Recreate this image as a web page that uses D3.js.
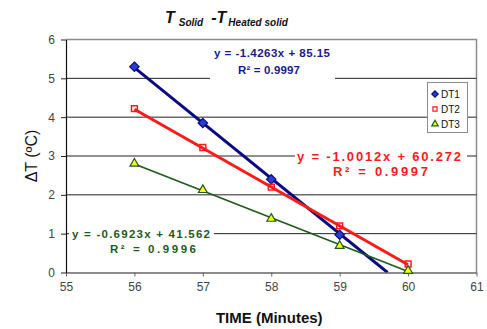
<!DOCTYPE html>
<html>
<head>
<meta charset="utf-8">
<script src="https://cdn.jsdelivr.net/npm/d3@7"></script>
<style>
  html, body { margin: 0; padding: 0; background: #fff; }
  svg { display: block; font-family: "Liberation Sans", Arial, sans-serif; }
</style>
</head>
<body>
<svg id="chart" width="487" height="329"></svg>
<script>
// Measured temperature differences (°C) against time (minutes)
const times1 = [56, 57, 58, 59];
const dt1 = [5.30, 3.85, 2.40, 0.97];
const times2 = [56, 57, 58, 59, 60];
const dt2 = [4.22, 3.22, 2.20, 1.20, 0.22];
const times3 = [56, 57, 58, 59, 60];
const dt3 = [2.78, 2.10, 1.36, 0.66, 0.02];

// Linear trendline coefficients (slope, intercept, R²)
const fitSlopes = [-1.4263, -1.0012, -0.6923];
const fitIntercepts = [85.15, 60.272, 41.562];
const fitR2 = ["0.9997", "0.9997", "0.9996"];

const seriesNames = ["DT1", "DT2", "DT3"];
const xTicks = [55, 56, 57, 58, 59, 60, 61];
const yTicks = [0, 1, 2, 3, 4, 5, 6];

const svg = d3.select("#chart");
const x = d3.scaleLinear().domain([55, 61]).range([66, 476.5]);
const y = d3.scaleLinear().domain([0, 6]).range([272.5, 39.5]);

// Plot area frame (top and right edges)
svg.append("path")
  .attr("d", `M${x(55)},${y(6)}H${x(61)}V${y(0)}`)
  .attr("fill", "none").attr("stroke", "#8c8c8c").attr("stroke-width", 1.5);

// Horizontal gridlines
svg.append("g").selectAll("line").data(yTicks.filter(v => v > 0 && v < 6)).join("line")
  .attr("x1", x(55)).attr("x2", x(61))
  .attr("y1", d => y(d)).attr("y2", d => y(d))
  .attr("stroke", "#222").attr("stroke-width", 1);

// Axes
const xAxis = svg.append("g").attr("transform", `translate(0,${y(0)})`)
  .call(d3.axisBottom(x).tickValues(xTicks).tickFormat(d3.format("d")).tickSize(4).tickSizeOuter(0));
xAxis.select(".domain").attr("stroke", "#666").attr("stroke-width", 1.5);
xAxis.selectAll(".tick line").attr("stroke", "#666");
xAxis.selectAll(".tick text").attr("fill", "#444").attr("font-size", 12).attr("dy", "0.95em")
  .attr("font-family", "Liberation Sans, Arial, sans-serif");

const yAxis = svg.append("g").attr("transform", `translate(${x(55)},0)`)
  .call(d3.axisLeft(y).tickValues(yTicks).tickFormat(d3.format("d")).tickSize(5).tickSizeOuter(0));
yAxis.select(".domain").attr("stroke", "#111").attr("stroke-width", 1.2);
yAxis.selectAll(".tick line").attr("stroke", "#222");
yAxis.selectAll(".tick text").attr("fill", "#444").attr("font-size", 12).attr("dx", "-3")
  .attr("font-family", "Liberation Sans, Arial, sans-serif");

// Trendlines, clipped to the plot area
svg.append("clipPath").attr("id", "plotClip").append("rect")
  .attr("x", x(55)).attr("y", y(6)).attr("width", x(61) - x(55)).attr("height", y(0) - y(6));

const lineColors = ["#0a0a82", "#ff1a1a", "#1e5a1e"];
const textColors = ["#1a1a8c", "#ff1a1a", "#1e5a1e"];
const lineWidths = [3, 3, 1.6];
const fitStart = [56, 56, 56];
const fitEnd = [fitIntercepts[0] / -fitSlopes[0], 60, 60];
const plot = svg.append("g").attr("clip-path", "url(#plotClip)");
[0, 1, 2].forEach(i => {
  const pts = [fitStart[i], fitEnd[i]].map(t => [t, fitSlopes[i] * t + fitIntercepts[i]]);
  plot.append("path")
    .attr("d", d3.line().x(d => x(d[0])).y(d => y(d[1]))(pts))
    .attr("fill", "none").attr("stroke", lineColors[i]).attr("stroke-width", lineWidths[i]);
});

// Markers
const diamond = d3.symbol().type(d3.symbolDiamond2).size(56);
const square = d3.symbol().type(d3.symbolSquare2).size(44);
const triangle = d3.symbol().type(d3.symbolTriangle2).size(56);

function drawMarker(g, sym, fill, stroke, sw) {
  return g.append("path").attr("d", sym()).attr("fill", fill).attr("stroke", stroke).attr("stroke-width", sw);
}
times1.forEach((t, i) => {
  const g = svg.append("g").attr("transform", `translate(${x(t)},${y(dt1[i])})`);
  drawMarker(g, diamond, "#2a3fd0", "#0a0a82", 1.2);
});
times2.forEach((t, i) => {
  const g = svg.append("g").attr("transform", `translate(${x(t)},${y(dt2[i])})`);
  drawMarker(g, square, "none", "#ff1a1a", 1.5);
});
times3.forEach((t, i) => {
  const g = svg.append("g").attr("transform", `translate(${x(t)},${y(dt3[i]) - 1})`);
  drawMarker(g, triangle, "#ffff00", "#1e5a1e", 1.2);
});

// Trendline equation labels
const fmtEq = i => `y = ${fitSlopes[i].toFixed(4)}x + ${fitIntercepts[i]}`;
const labels = [
  { eq: fmtEq(0), r2: `R² = ${fitR2[0]}`, ex: 214, ey: 57, ew: 116, rx: 238, ry: 74, rw: 62, fs: 11.5, box: [210, 42, 125, 38] },
  { eq: fmtEq(1), r2: `R² = ${fitR2[1]}`, ex: 297, ey: 161, ew: 164, rx: 333, ry: 176, rw: 95, fs: 13, box: [295, 145, 172, 38] },
  { eq: fmtEq(2), r2: `R² = ${fitR2[2]}`, ex: 72, ey: 238, ew: 138, rx: 110, ry: 253, rw: 86, fs: 11.5, box: [69, 223, 145, 34] }
];
labels.forEach((L, i) => {
  svg.append("rect").attr("x", L.box[0]).attr("y", L.box[1]).attr("width", L.box[2]).attr("height", L.box[3]).attr("fill", "#fff");
  svg.append("text").attr("x", L.ex).attr("y", L.ey).text(L.eq)
    .attr("font-size", L.fs).attr("font-weight", "bold").attr("fill", textColors[i])
    .attr("textLength", L.ew).attr("lengthAdjust", "spacing");
  svg.append("text").attr("x", L.rx).attr("y", L.ry).text(L.r2)
    .attr("font-size", L.fs).attr("font-weight", "bold").attr("fill", textColors[i])
    .attr("textLength", L.rw).attr("lengthAdjust", "spacing");
});

// Legend
const leg = svg.append("g");
leg.append("rect").attr("x", 427.5).attr("y", 82.5).attr("width", 40).attr("height", 50)
  .attr("fill", "#fff").attr("stroke", "#8c8c8c").attr("stroke-width", 1);
const legSyms = [
  [d3.symbol().type(d3.symbolDiamond2).size(26), "#2a3fd0", "#0a0a82"],
  [d3.symbol().type(d3.symbolSquare2).size(22), "none", "#ff1a1a"],
  [d3.symbol().type(d3.symbolTriangle2).size(30), "#ffff00", "#1e5a1e"]
];
seriesNames.forEach((name, i) => {
  const cy = 94 + i * 15;
  leg.append("path").attr("transform", `translate(435,${cy})`).attr("d", legSyms[i][0]())
    .attr("fill", legSyms[i][1]).attr("stroke", legSyms[i][2]).attr("stroke-width", 1.2);
  leg.append("text").attr("x", 441).attr("y", cy + 3.5).text(name)
    .attr("font-size", 10).attr("fill", "#111");
});

// Title with subscripts
const title = svg.append("text").attr("x", 165).attr("y", 23)
  .attr("font-weight", "bold").attr("font-style", "italic").attr("fill", "#111");
title.append("tspan").attr("font-size", 16).text("T");
title.append("tspan").attr("font-size", 10).attr("dx", 4).attr("dy", 3).text("Solid");
title.append("tspan").attr("font-size", 16).attr("dx", 8).attr("dy", -3).text("-T");
title.append("tspan").attr("font-size", 10).attr("dx", 2).attr("dy", 3).text("Heated solid");

// Axis titles
svg.append("text").attr("x", x(58) - 2).attr("y", 323).attr("text-anchor", "middle")
  .attr("font-size", 15).attr("font-weight", "bold").attr("fill", "#111").text("TIME (Minutes)");
svg.append("text").attr("transform", `translate(37,${y(3)}) rotate(-90)`).attr("text-anchor", "middle")
  .attr("font-size", 16).attr("fill", "#111").text("ΔT (ºC)");
</script>
</body>
</html>
